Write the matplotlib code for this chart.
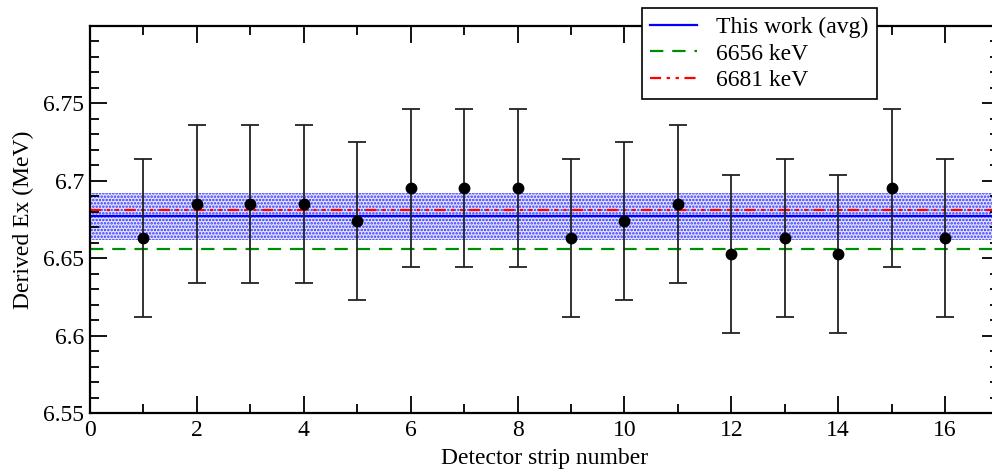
import matplotlib
matplotlib.use("Agg")
import matplotlib.pyplot as plt
from matplotlib.ticker import MultipleLocator, FixedLocator

plt.rcParams['font.family'] = ['Liberation Serif', 'DejaVu Serif']
plt.rcParams['hatch.linewidth'] = 1.2
plt.rcParams['hatch.color'] = '#3030ff'

strips = [1, 2, 3, 4, 5, 6, 7, 8, 9, 10, 11, 12, 13, 14, 15, 16]
ex_mev = [6.663, 6.685, 6.685, 6.685, 6.674, 6.6955, 6.6955, 6.6955,
          6.663, 6.674, 6.685, 6.6525, 6.663, 6.6525, 6.6955, 6.663]
ex_err = [0.051] * 16
avg = 6.677
avg_err = 0.015
ref1 = 6.656
ref2 = 6.681
xlim = (0, 17)
ylim = (6.55, 6.80)
yticks = [6.55, 6.6, 6.65, 6.7, 6.75]
ytick_labels = ['6.55', '6.6', '6.65', '6.7', '6.75']
xticks = [0, 2, 4, 6, 8, 10, 12, 14, 16]

fig = plt.figure(figsize=(9.92, 4.69), dpi=100)
ax = fig.add_axes([90/992, 56/469, 908.5/992, 387/469])

ax.fill_between(xlim, avg - avg_err, avg + avg_err, facecolor='#e4e4ff',
                edgecolor='none', hatch='.....', linewidth=0, zorder=1)
l1, = ax.plot(xlim, [avg, avg], color='#0000ff', lw=1.6, zorder=2,
              label='This work (avg)')
l2, = ax.plot(xlim, [ref1, ref1], color='#008c00', lw=1.6, ls=(0, (6, 4)),
              zorder=2, label='6656 keV')
l3, = ax.plot(xlim, [ref2, ref2], color='#ff0000', lw=1.6,
              ls=(0, (5, 2.5, 1.5, 2.5, 1.5, 2.5)), zorder=2,
              label='6681 keV')

ax.errorbar(strips, ex_mev, yerr=ex_err, fmt='o', color='black', ms=7.5,
            ecolor='#222222', elinewidth=1.3, capsize=6.3, capthick=1.3,
            zorder=3)

ax.set_xlim(*xlim)
ax.set_ylim(*ylim)
ax.xaxis.set_major_locator(FixedLocator(xticks))
ax.xaxis.set_minor_locator(MultipleLocator(1))
ax.yaxis.set_major_locator(FixedLocator(yticks))
ax.set_yticklabels(ytick_labels)
ax.yaxis.set_minor_locator(MultipleLocator(0.01))
ax.tick_params(which='both', direction='in', top=True, right=True,
               labelsize=17, width=1.3, colors='black')
ax.tick_params(which='major', length=12)
ax.tick_params(axis='x', which='major', pad=5)
ax.tick_params(axis='y', which='major', pad=4)
ax.tick_params(which='minor', length=6.5)
for s in ax.spines.values():
    s.set_linewidth(1.6)

ax.set_xlabel('Detector strip number', fontsize=17, labelpad=5)
ax.set_ylabel('Derived Ex (MeV)', fontsize=17, labelpad=7)

leg = fig.legend(handles=[l1, l2, l3], loc='upper left',
                 bbox_to_anchor=(642/992, 1 - 8/469), fontsize=17,
                 frameon=True, fancybox=False, framealpha=1,
                 edgecolor='black', handlelength=2.0, handletextpad=0.8,
                 borderpad=0.35, labelspacing=0.22, borderaxespad=0)
leg.get_frame().set_linewidth(1.2)
leg.set_zorder(10)

fig.savefig('out.png', dpi=100)
